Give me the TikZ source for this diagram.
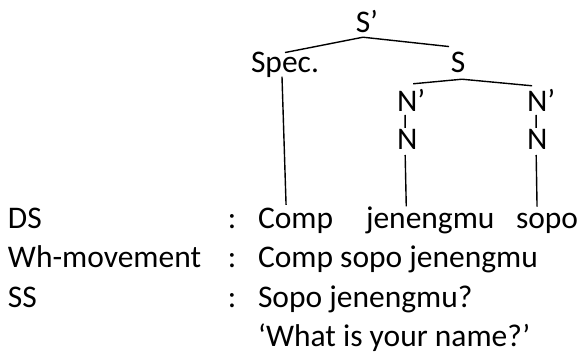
\documentclass[tikz,border=0pt]{standalone}
\usepackage{fontspec}
\setmainfont{Carlito}
\begin{document}
\begin{tikzpicture}[x=1pt,y=-1pt,
  lbl/.style={inner sep=0pt,outer sep=0pt,font=\fontsize{31.5}{38}\selectfont},
  edge/.style={line width=1.4pt}]
\useasboundingbox (0,0) rectangle (580,352);
% tree labels
\node[lbl,anchor=base] (sp) at (367,33) {S’};
\node[lbl,anchor=base west] (spec) at (251,73) {Spec.};
\node[lbl,anchor=base] (s) at (458,73) {S};
\node[lbl,anchor=base west] (nl1) at (397,112) {N’};
\node[lbl,anchor=base west] (nl2) at (397,150) {N};
\node[lbl,anchor=base west] (nr1) at (527,112) {N’};
\node[lbl,anchor=base west] (nr2) at (527,150) {N};
% rows
\node[lbl,anchor=base west] (ds) at (8,229) {DS};
\node[lbl,anchor=base] (c1) at (232,229) {:};
\node[lbl,anchor=base west] (comp) at (258,229) {Comp};
\node[lbl,anchor=base west] (jen) at (366,229) {jenengmu};
\node[lbl,anchor=base west] (sopo) at (516,229) {sopo};
\node[lbl,anchor=base west] (wh) at (8,268) {Wh-movement};
\node[lbl,anchor=base] (c2) at (232,268) {:};
\node[lbl,anchor=base west] (whs) at (258,268) {Comp sopo jenengmu};
\node[lbl,anchor=base west] (ss) at (8,307) {SS};
\node[lbl,anchor=base] (c3) at (232,307) {:};
\node[lbl,anchor=base west] (sss) at (258,307) {Sopo jenengmu?};
\node[lbl,anchor=base west] (gloss) at (258,346) {‘What is your name?’};
% edges
\draw[edge] ([shift={(-4,4)}]sp.south) -- (spec.north);
\draw[edge] ([shift={(-4,4)}]sp.south) -- ([shift={(-9,-6)}]s.north);
\draw[edge] ([shift={(-3,-1.5)}]spec.south) -- ([shift={(-9.5,-3.7)}]comp.north);
\draw[edge] ([shift={(4,6)}]s.south) -- ([shift={(2,-6)}]nl1.north);
\draw[edge] ([shift={(4,6)}]s.south) -- ([shift={(-9,-4)}]nr1.north);
\draw[edge] ([shift={(-6,3)}]nl1.south) -- ([shift={(-2,-2)}]nl2.north);
\draw[edge] ([shift={(-5,3)}]nr1.south) -- ([shift={(-1,-2)}]nr2.north);
\draw[edge] ([shift={(-2,5)}]nl2.south) -- ([shift={(-24,-1)}]jen.north);
\draw[edge] ([shift={(-1,5)}]nr2.south) -- ([shift={(-10,-7)}]sopo.north);
\end{tikzpicture}
\end{document}
